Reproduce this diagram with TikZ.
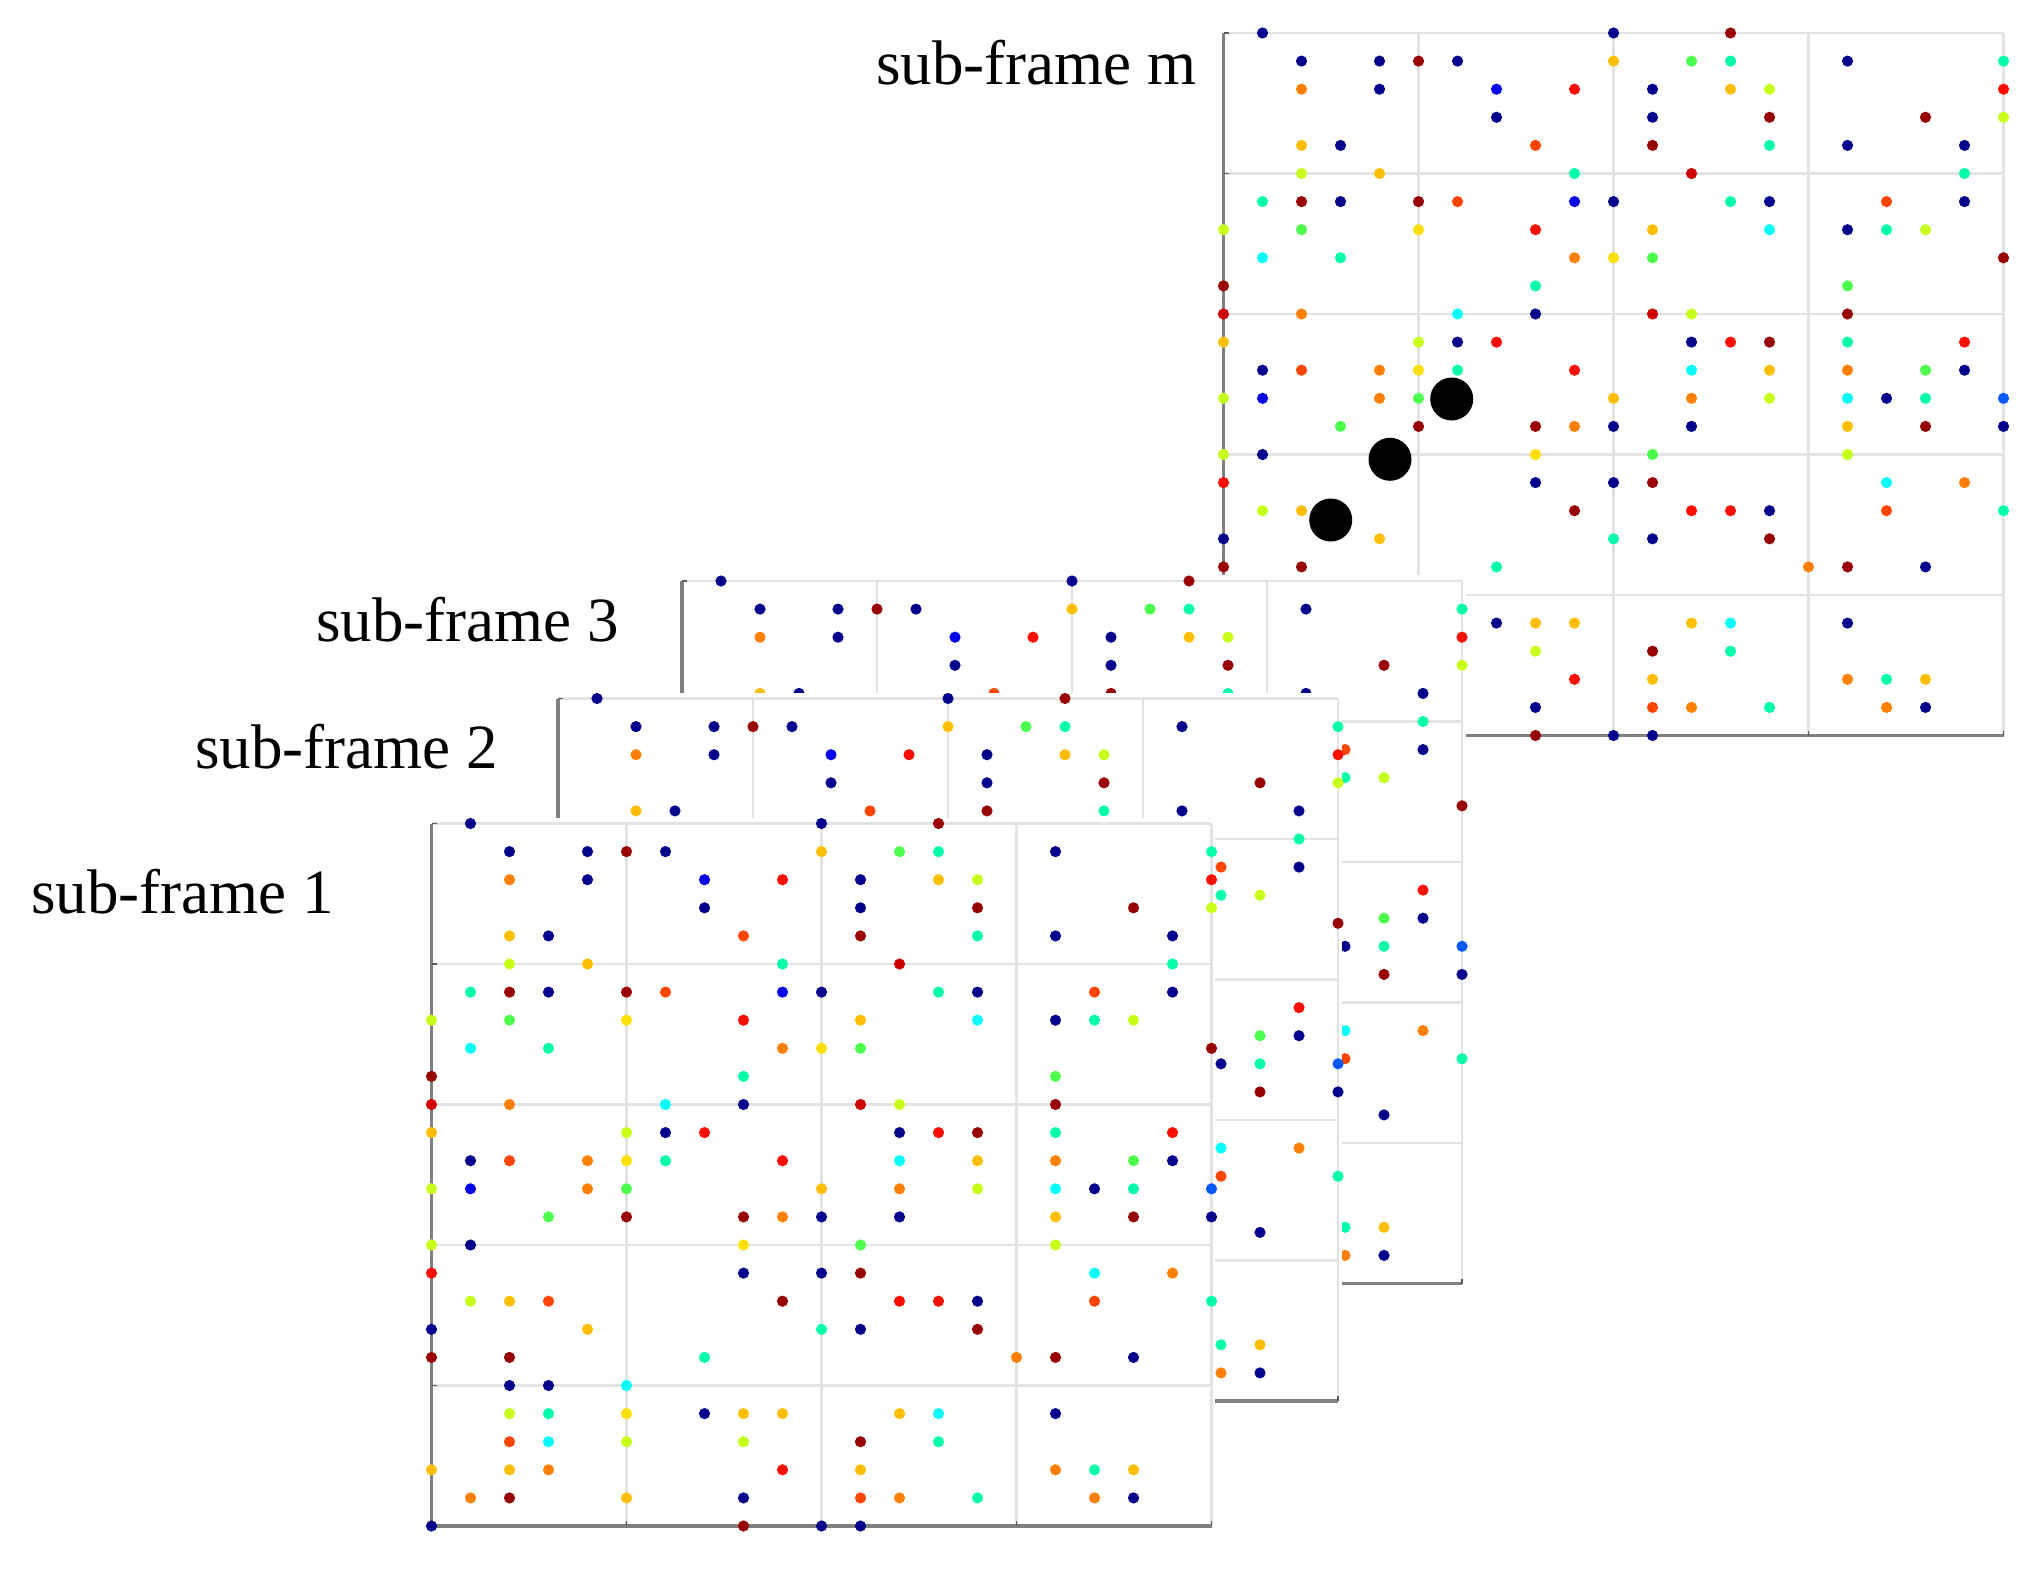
\documentclass[tikz,border=0pt]{standalone}
\usepackage{fontspec}
\setmainfont{Liberation Serif}
\definecolor{colN}{rgb}{0,0,0.55}
\definecolor{colB}{rgb}{0,0,0.92}
\definecolor{colL}{rgb}{0,0.35,1}
\definecolor{colC}{rgb}{0,1,1}
\definecolor{colT}{rgb}{0,1,0.65}
\definecolor{colG}{rgb}{0.3,1,0.3}
\definecolor{colY}{rgb}{0.78,1,0.1}
\definecolor{colYw}{rgb}{1,0.88,0}
\definecolor{colA}{rgb}{1,0.75,0}
\definecolor{colO}{rgb}{1,0.5,0}
\definecolor{colQ}{rgb}{1,0.27,0}
\definecolor{colR}{rgb}{1,0.05,0}
\definecolor{colS}{rgb}{0.82,0,0}
\definecolor{colD}{rgb}{0.6,0,0}
\def\dotlist{1/0/N,10/0/N,13/0/D,
2/1/N,4/1/N,5/1/D,6/1/N,10/1/A,12/1/G,13/1/T,16/1/N,20/1/T,
2/2/O,4/2/N,7/2/B,9/2/R,11/2/N,13/2/A,14/2/Y,20/2/R,
7/3/N,11/3/N,14/3/D,18/3/D,20/3/Y,
2/4/A,3/4/N,8/4/Q,11/4/D,14/4/T,16/4/N,19/4/N,
2/5/Y,4/5/A,9/5/T,12/5/S,19/5/T,
1/6/T,2/6/D,3/6/N,5/6/D,6/6/Q,9/6/B,10/6/N,13/6/T,14/6/N,17/6/Q,19/6/N,
0/7/Y,2/7/G,5/7/Yw,8/7/R,11/7/A,14/7/C,16/7/N,17/7/T,18/7/Y,
1/8/C,3/8/T,9/8/O,10/8/Yw,11/8/G,20/8/D,
0/9/D,8/9/T,16/9/G,
0/10/S,2/10/O,6/10/C,8/10/N,11/10/S,12/10/Y,16/10/D,
0/11/A,5/11/Y,6/11/N,7/11/R,12/11/N,13/11/R,14/11/D,16/11/T,19/11/R,
1/12/N,2/12/Q,4/12/O,5/12/Yw,6/12/T,9/12/R,12/12/C,14/12/A,16/12/O,18/12/G,19/12/N,
0/13/Y,1/13/B,4/13/O,5/13/G,10/13/A,12/13/O,14/13/Y,16/13/C,17/13/N,18/13/T,20/13/L,
3/14/G,5/14/D,8/14/D,9/14/O,10/14/N,12/14/N,16/14/A,18/14/D,20/14/N,
0/15/Y,1/15/N,8/15/Yw,11/15/G,16/15/Y,
0/16/R,8/16/N,10/16/N,11/16/D,17/16/C,19/16/O,
1/17/Y,2/17/A,3/17/Q,9/17/D,12/17/R,13/17/R,14/17/N,17/17/Q,20/17/T,
0/18/N,4/18/A,10/18/T,11/18/N,14/18/D,
0/19/D,2/19/D,7/19/T,15/19/O,16/19/D,18/19/N,
2/20/N,3/20/N,5/20/C,
2/21/Y,3/21/T,5/21/Yw,7/21/N,8/21/A,9/21/A,12/21/A,13/21/C,16/21/N,
2/22/Q,3/22/C,5/22/Y,8/22/Y,11/22/D,13/22/T,
0/23/A,2/23/A,3/23/O,9/23/R,11/23/A,16/23/O,17/23/T,18/23/A,
1/24/O,2/24/D,5/24/A,8/24/N,11/24/Q,12/24/O,14/24/T,17/24/O,18/24/N,
0/25/N,8/25/D,10/25/N,11/25/N}
\newcommand\subframe[2]{%
  \begin{scope}[shift={(#1,#2)}, x=19.5pt, y=-14.05pt]
    \fill[white] (-0.15,-0.2) rectangle (20.1,25.2);
    \foreach \k in {5,10,15,20} \draw[gridline] (\k,0) -- (\k,25);
    \foreach \k in {0,5,10,15,20} \draw[gridline] (0,\k) -- (20,\k);
    \draw[axisline] (0,0) -- (0,25) -- (20,25);
    \foreach \k in {0,5,...,25} \draw[tickline] (0,\k) -- ++(2.5pt,0);
    \foreach \k in {0,5,...,20} \draw[tickline] (\k,25) -- ++(0,2.5pt);
    \foreach \i/\j/\c in \dotlist \fill[col\c] (\i,\j) circle[radius=2.8pt];
  \end{scope}}
\begin{document}
\begin{tikzpicture}[x=0.5pt,y=-0.5pt,
  gridline/.style={draw=black!11, line width=1.35pt},
  axisline/.style={draw=black!50, line width=1.6pt},
  tickline/.style={draw=black!65, line width=0.9pt},
  flabel/.style={font=\fontsize{31.5}{36}\selectfont, anchor=base west, inner sep=0pt},
  bigdot/.style={fill=black}]
\useasboundingbox (0,0) rectangle (2037,1568);
\fill[white] (0,0) rectangle (2037,1568);
\subframe{1223.5}{33}
\fill[bigdot] (1451.7,399) circle[radius=10.75pt];
\fill[bigdot] (1390,459.3) circle[radius=10.75pt];
\fill[bigdot] (1330.7,520) circle[radius=10.75pt];
\subframe{682}{581}
\subframe{558}{698.5}
\subframe{431.5}{823.5}
\node[flabel] (lm) at (876,85) {sub-frame m};
\node[flabel] (l3) at (316,641) {sub-frame 3};
\node[flabel] (l2) at (195,768) {sub-frame 2};
\node[flabel] (l1) at (31,913) {sub-frame 1};
\end{tikzpicture}
\end{document}
